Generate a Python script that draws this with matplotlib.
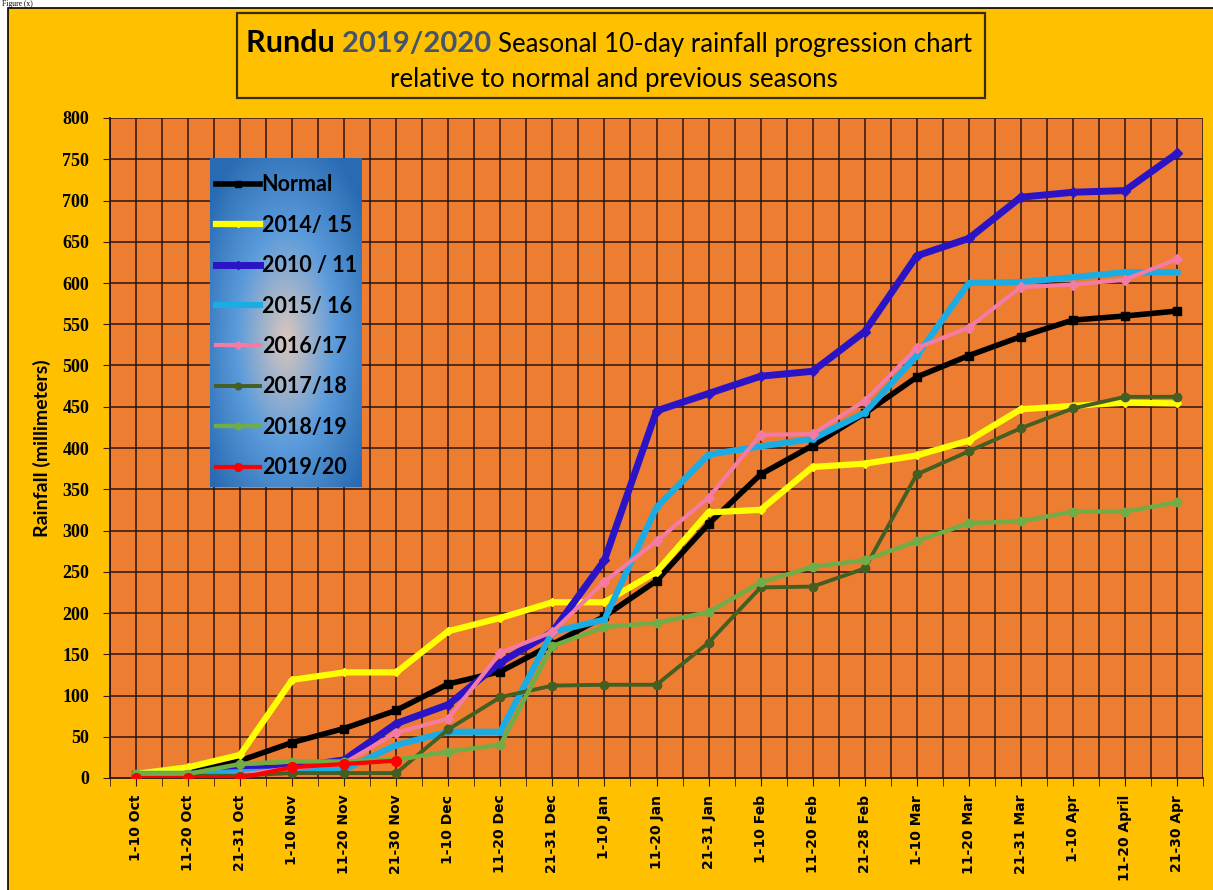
import numpy as np
import matplotlib
matplotlib.use('Agg')
import matplotlib.pyplot as plt
from matplotlib.patches import Rectangle

# 10-day periods
periods = ['1-10 Oct', '11-20 Oct', '21-31 Oct', '1-10 Nov', '11-20 Nov', '21-30 Nov',
           '1-10 Dec', '11-20 Dec', '21-31 Dec', '1-10 Jan', '11-20 Jan', '21-31 Jan',
           '1-10 Feb', '11-20 Feb', '21-28 Feb', '1-10 Mar', '11-20 Mar', '21-31 Mar',
           '1-10 Apr', '11-20 April', '21-30 Apr']

# cumulative rainfall (mm)
normal = [4, 8, 21, 43, 60, 82, 114, 129, 162, 196, 239, 308, 368, 403, 442, 486, 512, 535, 555, 560, 566]
s1415 = [5, 13, 28, 119, 128, 128, 178, 194, 213, 213, 250, 322, 325, 377, 381, 391, 409, 447, 451, 455, 454]
s1011 = [3, 3, 10, 13, 22, 66, 89, 140, 177, 264, 445, 466, 487, 493, 541, 633, 654, 704, 710, 712, 757]
s1516 = [5, 5, 7, 8, 10, 40, 56, 56, 177, 192, 328, 392, 402, 411, 443, 512, 600, 601, 607, 613, 613]
s1617 = [3, 3, 4, 12, 18, 55, 72, 152, 177, 238, 287, 340, 416, 417, 457, 521, 546, 595, 598, 604, 629]
s1718 = [3, 3, 3, 6, 6, 6, 59, 98, 112, 113, 113, 164, 231, 232, 254, 368, 396, 424, 448, 462, 462]
s1819 = [5, 5, 17, 20, 20, 22, 32, 40, 160, 183, 188, 201, 237, 256, 264, 287, 309, 311, 323, 323, 334]
s1920 = [0, 0, 0, 13, 17, 21]

series = [
    ('Normal', normal, 'black', 4.0, 's', 6),
    ('2014/ 15', s1415, '#FFFF00', 4.5, 'D', 4),
    ('2010 / 11', s1011, '#2B14C6', 5.0, 'D', 5),
    ('2015/ 16', s1516, '#1BACE4', 4.5, 'o', 4),
    ('2016/17', s1617, '#F47BA3', 3.0, 'D', 5),
    ('2017/18', s1718, '#455E22', 2.8, 'o', 6),
    ('2018/19', s1819, '#70AD47', 3.2, 'o', 6),
    ('2019/20', s1920, '#FF0000', 3.0, 'o', 7),
]

W, H = 1213, 890
fig = plt.figure(figsize=(W / 100, H / 100), dpi=100, facecolor='white')

# yellow frame
fig.patches.append(Rectangle((8 / W, -0.01), 1.1, 1 - 8 / H + 0.01, transform=fig.transFigure,
                             facecolor='#FFC000', edgecolor='black', lw=1.2, zorder=-1))
fig.text(0.002, 0.9995, 'Figure (x)', fontsize=5.5, family='Liberation Serif', va='top',
         ha='left', zorder=-2)

ax = fig.add_axes([110 / W, 1 - 778 / H, (1203 - 110) / W, (778 - 118) / H])
ax.set_facecolor('#ED7D31')
x = np.arange(len(periods))

lines = []
for name, vals, col, lw, mk, ms in series:
    ln, = ax.plot(x[:len(vals)], vals, color=col, lw=lw, marker=mk, ms=ms,
                  markeredgecolor=col, label=name, solid_joinstyle='round', zorder=3)
    lines.append(ln)

ax.set_xlim(-0.5, len(periods) - 0.5)
ax.set_ylim(0, 800)
ax.set_yticks(np.arange(0, 801, 50))
ax.set_xticks(x)
ax.set_xticks(np.arange(-0.5, len(periods), 1), minor=True)
ax.set_xticklabels(periods, rotation=90, fontsize=10, fontweight='bold', family='DejaVu Sans')
for lab in ax.get_yticklabels():
    lab.set_fontsize(13)
    lab.set_fontweight('bold')
    lab.set_family('Liberation Serif')
ax.tick_params(axis='x', which='both', direction='out', length=6, color='#3a1a10', pad=6)
ax.tick_params(axis='y', direction='out', length=5, color='#3a1a10', pad=10)

# grid at every half category and every 50 mm
for gx in np.arange(-0.5, len(periods), 0.5):
    ax.axvline(gx, color='#2b1410', lw=1.1, zorder=1)
for gy in np.arange(50, 801, 50):
    ax.axhline(gy, color='#2b1410', lw=1.1, zorder=1)
for s in ['top', 'right']:
    ax.spines[s].set_visible(False)
ax.spines['left'].set_color('#2b1410')
ax.spines['bottom'].set_color('#2b1410')
ax.spines['left'].set_linewidth(1.3)
ax.spines['bottom'].set_linewidth(1.3)

ax.set_ylabel('Rainfall (millimeters)', fontsize=14, fontweight='bold', family='Lato', labelpad=8)

# legend background with a radial gradient
lx0, ly0, lx1, ly1 = 210, 158, 362, 487
gax = fig.add_axes([lx0 / W, 1 - ly1 / H, (lx1 - lx0) / W, (ly1 - ly0) / H], zorder=4)
gy_, gx_ = np.mgrid[0:1:200j, 0:1:100j]
r = np.sqrt(((gx_ - 0.5) / 0.5) ** 2 + ((gy_ - 0.55) / 0.5) ** 2)
r = np.clip(r, 0, 1.3) / 1.3
c0 = np.array([0.86, 0.78, 0.74])
c1 = np.array([0.36, 0.61, 0.86])
c2 = np.array([0.16, 0.42, 0.70])
t = r[..., None]
img = np.where(t < 0.5, c0 + (c1 - c0) * (t / 0.5), c1 + (c2 - c1) * ((t - 0.5) / 0.5))
gax.imshow(img, aspect='auto', extent=(0, 1, 0, 1))
gax.axis('off')

leg = fig.legend(handles=lines, loc='upper left', bbox_to_anchor=(lx0 / W, 1 - (ly0 + 10) / H),
                 frameon=False, prop={'family': 'Lato', 'weight': 'bold', 'size': 15.5},
                 handlelength=2.0, handletextpad=0.1, labelspacing=0.9, borderaxespad=0,
                 borderpad=0.3, markerscale=0.8)
leg.set_zorder(5)

# title box
fig.patches.append(Rectangle((237 / W, 1 - 98 / H), (985 - 237) / W, (98 - 13) / H,
                             transform=fig.transFigure, facecolor='#FFC000',
                             edgecolor='#3a2a10', lw=1.6, zorder=1))
fig.canvas.draw()
rend = fig.canvas.get_renderer()
parts = [('Rundu ', dict(fontsize=22, fontweight='bold', color='black')),
         ('2019/2020 ', dict(fontsize=21, fontweight='bold', color='#44546A')),
         ('Seasonal 10-day rainfall progression chart', dict(fontsize=18.5, color='black'))]
texts = []
for s, kw in parts:
    texts.append(fig.text(0, 1 - 52 / H, s, family='Lato', va='baseline', ha='left', zorder=3, **kw))
widths = [tt.get_window_extent(rend).width for tt in texts]
xpos = 609 - sum(widths) / 2
for tt, w in zip(texts, widths):
    tt.set_x(xpos / W)
    xpos += w
fig.text(614 / W, 1 - 87 / H, 'relative to normal and previous seasons', family='Lato',
         fontsize=18.5, va='baseline', ha='center', zorder=3)

fig.savefig('out.png', dpi=100, facecolor='white')
